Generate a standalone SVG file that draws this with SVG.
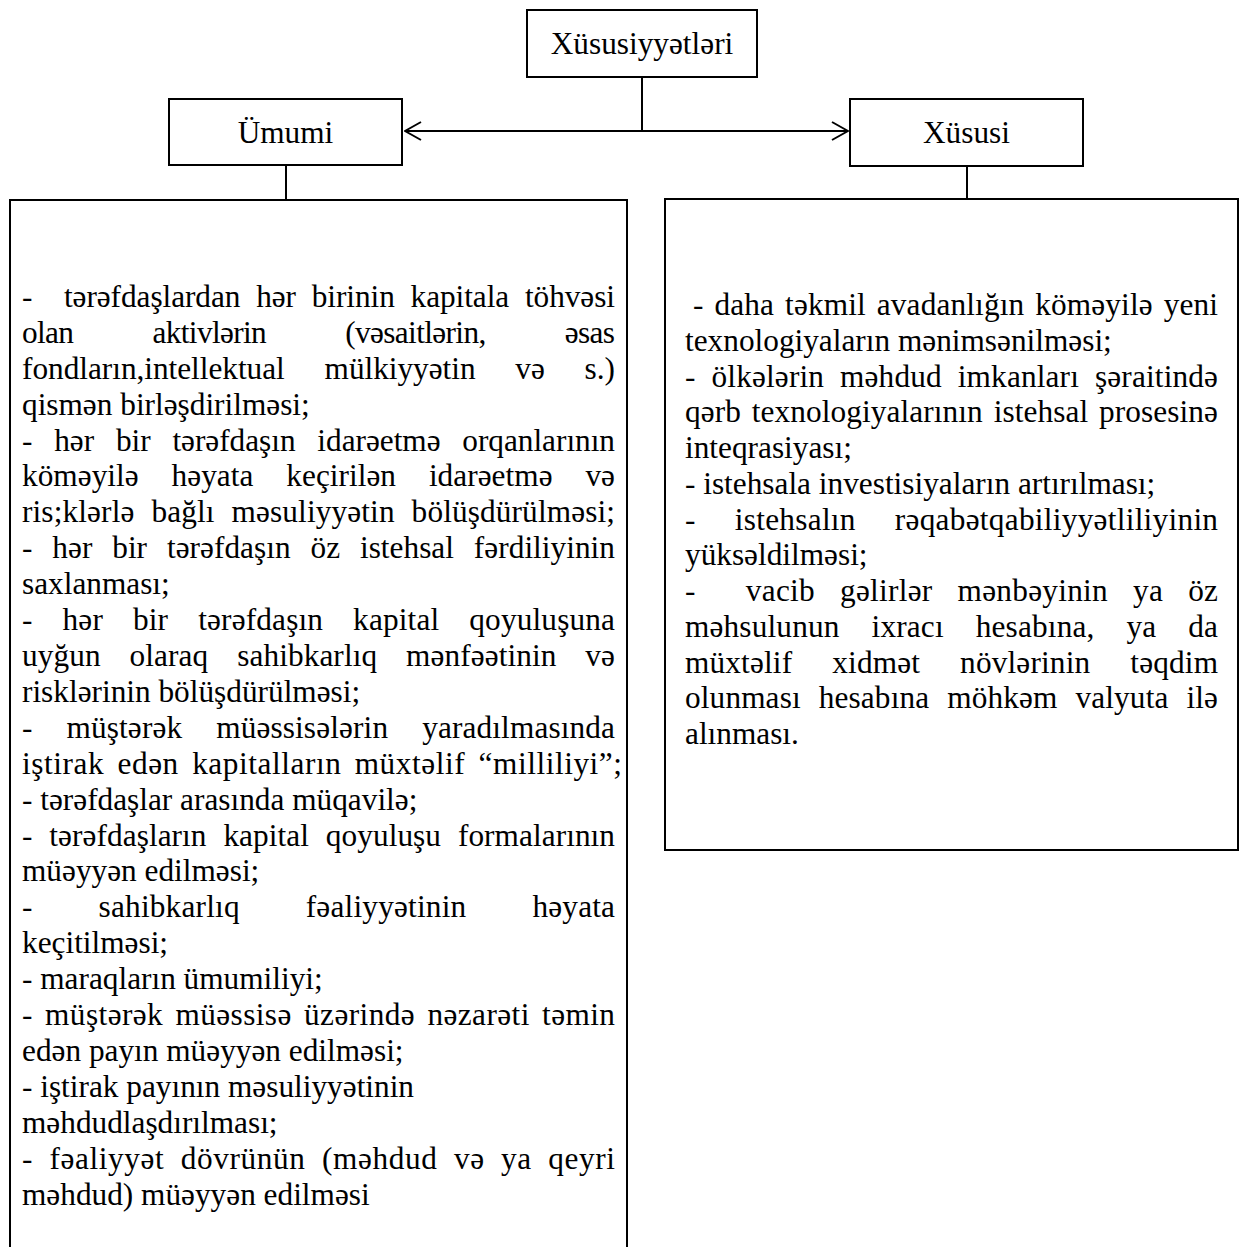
<svg xmlns="http://www.w3.org/2000/svg" width="1240" height="1247" viewBox="0 0 1240 1247">
<style>
.box{fill:#fff;stroke:#000;stroke-width:2}
.ln{fill:none;stroke:#000;stroke-width:2}
text{font-family:"Liberation Serif","Times New Roman",serif;font-size:31.3px;fill:#000}
.c{text-anchor:middle}
</style>
<defs>
<marker id="ah" viewBox="0 0 18 20" refX="17" refY="10" markerWidth="18" markerHeight="20" markerUnits="userSpaceOnUse" orient="auto-start-reverse">
<path d="M1,1 L17,10 L1,19" fill="none" stroke="#000" stroke-width="2"/>
</marker>
</defs>
<rect width="1240" height="1247" fill="#fff"/>
<g id="connectors">
<path class="ln" d="M642,77 V131"/>
<path class="ln" d="M405,131 H848" marker-start="url(#ah)" marker-end="url(#ah)"/>
<path class="ln" d="M286,165 V200"/>
<path class="ln" d="M967,166 V201"/>
</g>
<g id="node-xususiyyetleri">
<rect class="box" x="527" y="10" width="230" height="67"/>
<text class="c" x="642" y="54">Xüsusiyyətləri</text>
</g>
<g id="node-umumi">
<rect class="box" x="169" y="99" width="233" height="66"/>
<text class="c" x="285.5" y="143">Ümumi</text>
</g>
<g id="node-xususi">
<rect class="box" x="850" y="99" width="233" height="67"/>
<text class="c" x="966.5" y="143">Xüsusi</text>
</g>
<g id="node-umumi-list">
<path class="box" d="M10,1260 V200 H627 V1260"/>
<text x="22" y="307" textLength="593" lengthAdjust="spacing" xml:space="preserve" style="word-spacing:8px">-  tərəfdaşlardan hər birinin kapitala töhvəsi</text>
<text x="22" y="343" textLength="593" lengthAdjust="spacing" style="word-spacing:72px">olan aktivlərin (vəsaitlərin, əsas</text>
<text x="22" y="379" textLength="593" lengthAdjust="spacing" style="word-spacing:32px">fondların,intellektual mülkiyyətin və s.)</text>
<text x="22" y="415">qismən birləşdirilməsi;</text>
<text x="22" y="451" textLength="593" lengthAdjust="spacing" style="word-spacing:14px">- hər bir tərəfdaşın idarəetmə orqanlarının</text>
<text x="22" y="486" textLength="593" lengthAdjust="spacing" style="word-spacing:25px">köməyilə həyata keçirilən idarəetmə və</text>
<text x="22" y="522" textLength="593" lengthAdjust="spacing" style="word-spacing:9px">ris;klərlə bağlı məsuliyyətin bölüşdürülməsi;</text>
<text x="22" y="558" textLength="593" lengthAdjust="spacing" style="word-spacing:12px">- hər bir tərəfdaşın öz istehsal fərdiliyinin</text>
<text x="22" y="594">saxlanması;</text>
<text x="22" y="630" textLength="593" lengthAdjust="spacing" style="word-spacing:22px">- hər bir tərəfdaşın kapital qoyuluşuna</text>
<text x="22" y="666" textLength="593" lengthAdjust="spacing" style="word-spacing:21px">uyğun olaraq sahibkarlıq mənfəətinin və</text>
<text x="22" y="702">risklərinin bölüşdürülməsi;</text>
<text x="22" y="738" textLength="593" lengthAdjust="spacing" style="word-spacing:26px">- müştərək müəssisələrin yaradılmasında</text>
<text x="22" y="774" textLength="600" lengthAdjust="spacing" style="word-spacing:5px">iştirak edən kapitalların müxtəlif “milliliyi”;</text>
<text x="22" y="810">- tərəfdaşlar arasında müqavilə;</text>
<text x="22" y="846" textLength="593" lengthAdjust="spacing" style="word-spacing:9px">- tərəfdaşların kapital qoyuluşu formalarının</text>
<text x="22" y="881">müəyyən edilməsi;</text>
<text x="22" y="917" textLength="593" lengthAdjust="spacing" style="word-spacing:58px">- sahibkarlıq fəaliyyətinin həyata</text>
<text x="22" y="953">keçitilməsi;</text>
<text x="22" y="989">- maraqların ümumiliyi;</text>
<text x="22" y="1025" textLength="593" lengthAdjust="spacing" style="word-spacing:4px">- müştərək müəssisə üzərində nəzarəti təmin</text>
<text x="22" y="1061">edən payın müəyyən edilməsi;</text>
<text x="22" y="1097">- iştirak payının məsuliyyətinin</text>
<text x="22" y="1133">məhdudlaşdırılması;</text>
<text x="22" y="1169" textLength="593" lengthAdjust="spacing" style="word-spacing:8px">- fəaliyyət dövrünün (məhdud və ya qeyri</text>
<text x="22" y="1205">məhdud) müəyyən edilməsi</text>
</g>
<g id="node-xususi-list">
<rect class="box" x="665" y="199" width="573" height="651"/>
<text x="693" y="315" textLength="525" lengthAdjust="spacing" style="word-spacing:3px">- daha təkmil avadanlığın köməyilə yeni</text>
<text x="685" y="351">texnologiyaların mənimsənilməsi;</text>
<text x="685" y="387" textLength="533" lengthAdjust="spacing" style="word-spacing:8px">- ölkələrin məhdud imkanları şəraitində</text>
<text x="685" y="422" textLength="533" lengthAdjust="spacing" style="word-spacing:3px">qərb texnologiyalarının istehsal prosesinə</text>
<text x="685" y="458">inteqrasiyası;</text>
<text x="685" y="494">- istehsala investisiyaların artırılması;</text>
<text x="685" y="530" textLength="533" lengthAdjust="spacing" style="word-spacing:31px">- istehsalın rəqabətqabiliyyətliliyinin</text>
<text x="685" y="565">yüksəldilməsi;</text>
<text x="685" y="601" textLength="533" lengthAdjust="spacing" xml:space="preserve" style="word-spacing:17px">-  vacib gəlirlər mənbəyinin ya öz</text>
<text x="685" y="637" textLength="533" lengthAdjust="spacing" style="word-spacing:24px">məhsulunun ixracı hesabına, ya da</text>
<text x="685" y="673" textLength="533" lengthAdjust="spacing" style="word-spacing:32px">müxtəlif xidmət növlərinin təqdim</text>
<text x="685" y="708" textLength="533" lengthAdjust="spacing" style="word-spacing:10px">olunması hesabına möhkəm valyuta ilə</text>
<text x="685" y="744">alınması.</text>
</g>
</svg>
